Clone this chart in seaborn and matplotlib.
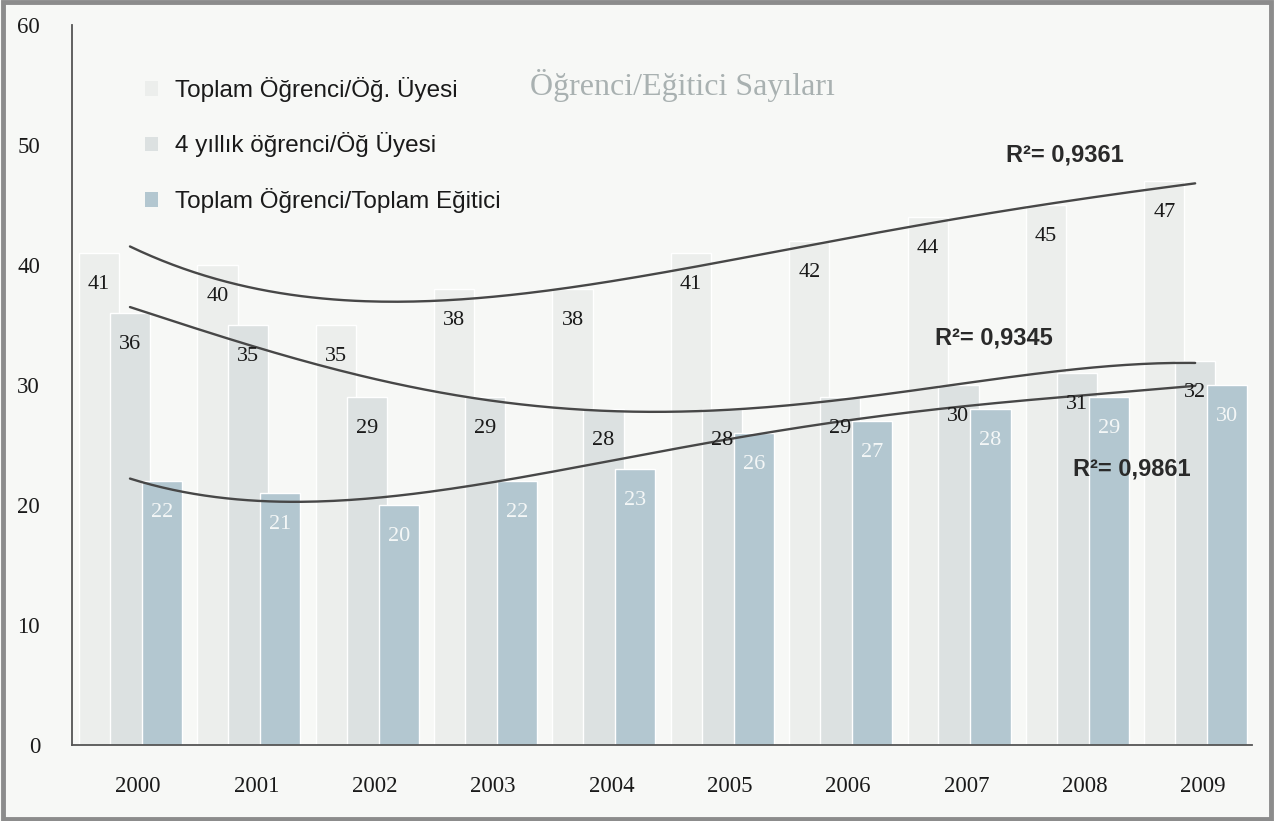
import numpy as np
import matplotlib
matplotlib.use("Agg")
import matplotlib.pyplot as plt
import matplotlib.transforms as mtransforms
from matplotlib.patches import Patch, Rectangle
import seaborn as sns

# ---------------------------
# DATA
# ---------------------------
years = ["2000", "2001", "2002", "2003", "2004", "2005", "2006", "2007", "2008", "2009"]
toplam_ogr_uye = [41, 40, 35, 38, 38, 41, 42, 44, 45, 47]
dort_yillik_ogr_uye = [36, 35, 29, 29, 28, 28, 29, 30, 31, 32]
toplam_ogr_egitici = [22, 21, 20, 22, 23, 26, 27, 28, 29, 30]

series_names = ["Toplam Öğrenci/Öğ. Üyesi", "4 yıllık öğrenci/Öğ Üyesi",
                "Toplam Öğrenci/Toplam Eğitici"]
r2_labels = ["R²= 0,9361", "R²= 0,9345", "R²= 0,9861"]
title = "Öğrenci/Eğitici Sayıları"

# ---------------------------
# STYLE
# ---------------------------
BG = "#f7f8f6"
colors = ["#eceeec", "#dce1e1", "#b3c7d0"]
label_colors = ["#1a1a1a", "#1a1a1a", "#f4f7f7"]
offsets = [-0.26, 0.0, 0.27]
bar_w = 0.34

sns.set_theme(style="white")
plt.rcParams["font.family"] = ["Liberation Serif", "DejaVu Serif"]

fig = plt.figure(figsize=(12.74, 8.21), dpi=100, facecolor=BG)
ax = fig.add_axes([0.0565, 0.0926, 0.9262, 0.877])
ax.set_facecolor(BG)

# ---------------------------
# BARS + VALUE LABELS
# ---------------------------
all_series = [toplam_ogr_uye, dort_yillik_ogr_uye, toplam_ogr_egitici]
for vals, col, off, lc in zip(all_series, colors, offsets, label_colors):
    sns.barplot(x=years, y=vals, color=col, width=bar_w, saturation=1,
                errorbar=None, ax=ax)
    cont = ax.containers[-1]
    for i, (bar, v) in enumerate(zip(cont, vals)):
        bar.set_x(bar.get_x() + off)
        ax.text(i + off, v - 2.6, str(v), ha="center", va="center",
                fontsize=16, color=lc, zorder=5)

# polynomial trendlines (4th order, like the Excel original)
xi = np.arange(len(years))
xs = np.linspace(0, len(years) - 1, 200)
for vals in all_series:
    coef = np.polyfit(xi, vals, 4)
    ax.plot(xs, np.polyval(coef, xs), color="#474747", lw=1.7, zorder=4)

# R² texts
r2_pos = [(7.4, 49.2), (6.8, 33.9), (7.97, 23.0)]
for txt, (px, py) in zip(r2_labels, r2_pos):
    ax.text(px, py, txt, ha="left", va="center", fontsize=17,
            fontweight="bold", family=["Liberation Sans", "DejaVu Sans"],
            color="#2a2a2a", zorder=6)

# title
fig.text(0.536, 0.896, title, ha="center", va="center",
         fontsize=23, color="#a9b1b1")

# ---------------------------
# AXES
# ---------------------------
ax.set_xlim(-0.49, 9.48)
ax.set_ylim(0, 60)
ax.set_yticks(range(0, 61, 10))
ax.set_xlabel("")
ax.set_ylabel("")
for s in ["top", "right"]:
    ax.spines[s].set_visible(False)
for s in ["left", "bottom"]:
    ax.spines[s].set_color("#555555")
    ax.spines[s].set_linewidth(1.3)
ax.tick_params(axis="x", length=0, labelsize=16.5, colors="#1a1a1a", pad=22)
ax.tick_params(axis="y", length=7, width=1.3, color="#555555",
               labelsize=16.5, labelcolor="#1a1a1a", pad=16)
for tk in ax.yaxis.get_major_ticks()[1:]:
    tk.tick1line.set_visible(False)

# year labels sit a little right of the category centre in the original
shift = mtransforms.ScaledTranslation(0.08, 0, fig.dpi_scale_trans)
for lbl in ax.get_xticklabels():
    lbl.set_transform(lbl.get_transform() + shift)

# legend
handles = [Patch(facecolor=c, edgecolor="none") for c in colors]
leg = ax.legend(handles, series_names, loc="upper left",
                bbox_to_anchor=(0.043, 0.958), frameon=False,
                handlelength=0.55, handleheight=0.55, handletextpad=0.7,
                labelspacing=1.25,
                prop={"family": ["Liberation Sans", "DejaVu Sans"], "size": 17.5})
for t in leg.get_texts():
    t.set_color("#1a1a1a")

# outer frame
fig.patches.append(Rectangle((0.002, 0.003), 0.996, 0.994, transform=fig.transFigure,
                             fill=False, edgecolor="#8c8c8c", lw=3.5))

fig.savefig("out.png", dpi=100, facecolor=BG)
